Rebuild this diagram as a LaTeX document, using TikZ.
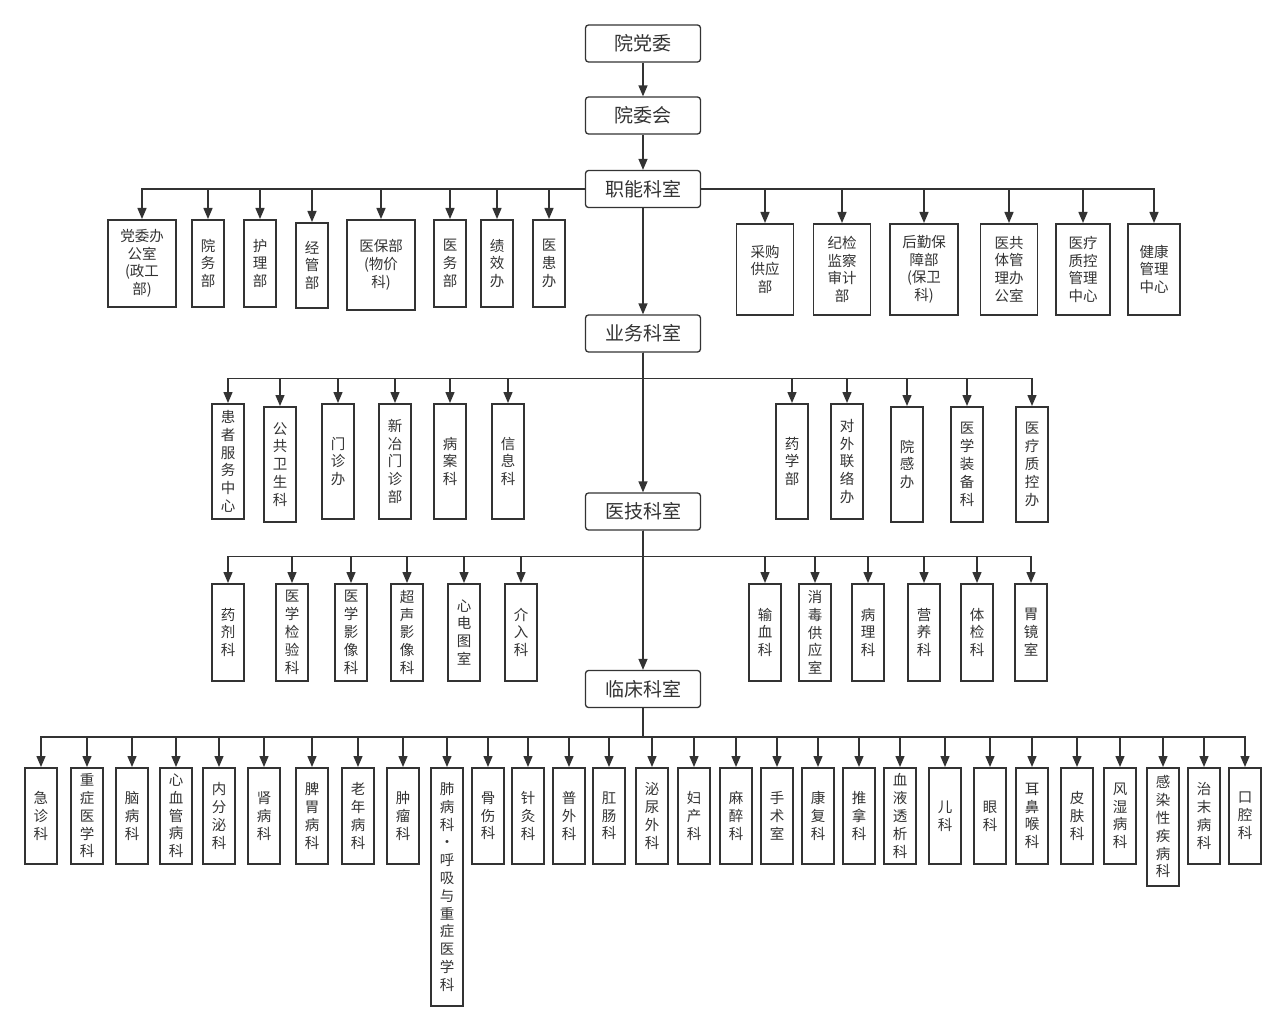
\documentclass[tikz,border=0pt]{standalone}
\usepackage{fontspec}
\setmainfont{Noto Sans CJK SC}
\usetikzlibrary{arrows.meta}
\definecolor{ink}{HTML}{333333}
\tikzset{
    lead/.style={draw=ink, text=ink, line width=1.3pt, rounded corners=3pt,
        minimum width=115pt, minimum height=37pt, inner sep=0pt,
        font=\fontsize{19}{22}\selectfont},
    unit/.style={draw=ink, text=ink, line width=1.8pt, anchor=north,
        align=center, inner sep=0pt, minimum width=32pt,
        font=\fontsize{14.5}{17.8}\selectfont},
    link/.style={draw=ink, line width=1.4pt, -{Triangle[width=9pt,length=11pt]}}
}

\begin{document}
\begin{tikzpicture}[x=1pt, y=-1pt]
    \useasboundingbox (0,0) rectangle (1286,1030);

    % main line
    \node[lead] (dangwei) at (643,43.5) {院党委};
    \node[lead] (yuanwei) at (643,115.5) {院委会};
    \node[lead] (zhineng) at (643,189) {职能科室};
    \node[lead] (yewu) at (643,333.5) {业务科室};
    \node[lead] (yiji) at (643,511.5) {医技科室};
    \node[lead] (linchuang) at (643,689) {临床科室};

    % 职能科室
    \node[unit, minimum width=68pt, minimum height=87pt] (zn1) at (142,219) {党委办\\公室\\(政工\\部)};
    \node[unit, minimum height=87pt] (zn2) at (208,219) {院\\务\\部};
    \node[unit, minimum height=87pt] (zn3) at (260,219) {护\\理\\部};
    \node[unit, minimum height=85pt] (zn4) at (312,222) {经\\管\\部};
    \node[unit, minimum width=68pt, minimum height=90pt] (zn5) at (381,219) {医保部\\(物价\\科)};
    \node[unit, minimum height=87pt] (zn6) at (450,219) {医\\务\\部};
    \node[unit, minimum height=87pt] (zn7) at (497,219) {绩\\效\\办};
    \node[unit, minimum height=87pt] (zn8) at (549,219) {医\\患\\办};
    \node[unit, minimum width=57pt, minimum height=91pt] (zn9) at (765,223) {采购\\供应\\部};
    \node[unit, minimum width=57pt, minimum height=91pt] (zn10) at (842,223) {纪检\\监察\\审计\\部};
    \node[unit, minimum width=68pt, minimum height=91pt] (zn11) at (924,223) {后勤保\\障部\\(保卫\\科)};
    \node[unit, minimum width=57pt, minimum height=91pt] (zn12) at (1009,223) {医共\\体管\\理办\\公室};
    \node[unit, minimum width=54pt, minimum height=91pt] (zn13) at (1083,223) {医疗\\质控\\管理\\中心};
    \node[unit, minimum width=52pt, minimum height=91pt] (zn14) at (1154,223) {健康\\管理\\中心};

    % 业务科室
    \node[unit, minimum height=115pt] (yw1) at (228,403) {患\\者\\服\\务\\中\\心};
    \node[unit, minimum height=115pt] (yw2) at (280,406) {公\\共\\卫\\生\\科};
    \node[unit, minimum height=115pt] (yw3) at (338,403) {门\\诊\\办};
    \node[unit, minimum height=115pt] (yw4) at (395,403) {新\\冶\\门\\诊\\部};
    \node[unit, minimum height=115pt] (yw5) at (450,403) {病\\案\\科};
    \node[unit, minimum height=115pt] (yw6) at (508,403) {信\\息\\科};
    \node[unit, minimum height=115pt] (yw7) at (792,403) {药\\学\\部};
    \node[unit, minimum height=115pt] (yw8) at (847,403) {对\\外\\联\\络\\办};
    \node[unit, minimum height=115pt] (yw9) at (907,406) {院\\感\\办};
    \node[unit, minimum height=115pt] (yw10) at (967,406) {医\\学\\装\\备\\科};
    \node[unit, minimum height=115pt] (yw11) at (1032,406) {医\\疗\\质\\控\\办};

    % 医技科室
    \node[unit, minimum height=97pt] (yj1) at (228,583) {药\\剂\\科};
    \node[unit, minimum height=97pt] (yj2) at (292,583) {医\\学\\检\\验\\科};
    \node[unit, minimum height=97pt] (yj3) at (351,583) {医\\学\\影\\像\\科};
    \node[unit, minimum height=97pt] (yj4) at (407,583) {超\\声\\影\\像\\科};
    \node[unit, minimum height=97pt] (yj5) at (464,583) {心\\电\\图\\室};
    \node[unit, minimum height=97pt] (yj6) at (521,583) {介\\入\\科};
    \node[unit, minimum height=97pt] (yj7) at (765,583) {输\\血\\科};
    \node[unit, minimum height=97pt] (yj8) at (815,583) {消\\毒\\供\\应\\室};
    \node[unit, minimum height=97pt] (yj9) at (868,583) {病\\理\\科};
    \node[unit, minimum height=97pt] (yj10) at (924,583) {营\\养\\科};
    \node[unit, minimum height=97pt] (yj11) at (977,583) {体\\检\\科};
    \node[unit, minimum height=97pt] (yj12) at (1031,583) {胃\\镜\\室};

    % 临床科室
    \node[unit, minimum height=96pt] (lc1) at (41,767) {急\\诊\\科};
    \node[unit, minimum height=96pt] (lc2) at (87,767) {重\\症\\医\\学\\科};
    \node[unit, minimum height=96pt] (lc3) at (132,767) {脑\\病\\科};
    \node[unit, minimum height=96pt] (lc4) at (176,767) {心\\血\\管\\病\\科};
    \node[unit, minimum height=96pt] (lc5) at (219,767) {内\\分\\泌\\科};
    \node[unit, minimum height=96pt] (lc6) at (264,767) {肾\\病\\科};
    \node[unit, minimum height=96pt] (lc7) at (312,767) {脾\\胃\\病\\科};
    \node[unit, minimum height=96pt] (lc8) at (358,767) {老\\年\\病\\科};
    \node[unit, minimum height=96pt] (lc9) at (403,767) {肿\\瘤\\科};
    \node[unit, minimum height=238pt] (lc10) at (447,767) {肺\\病\\科\\·\\呼\\吸\\与\\重\\症\\医\\学\\科};
    \node[unit, minimum height=96pt] (lc11) at (488,767) {骨\\伤\\科};
    \node[unit, minimum height=96pt] (lc12) at (528,767) {针\\灸\\科};
    \node[unit, minimum height=96pt] (lc13) at (569,767) {普\\外\\科};
    \node[unit, minimum height=96pt] (lc14) at (609,767) {肛\\肠\\科};
    \node[unit, minimum height=96pt] (lc15) at (652,767) {泌\\尿\\外\\科};
    \node[unit, minimum height=96pt] (lc16) at (694,767) {妇\\产\\科};
    \node[unit, minimum height=96pt] (lc17) at (736,767) {麻\\醉\\科};
    \node[unit, minimum height=96pt] (lc18) at (777,767) {手\\术\\室};
    \node[unit, minimum height=96pt] (lc19) at (818,767) {康\\复\\科};
    \node[unit, minimum height=96pt] (lc20) at (859,767) {推\\拿\\科};
    \node[unit, minimum height=96pt] (lc21) at (900,767) {血\\液\\透\\析\\科};
    \node[unit, minimum height=96pt] (lc22) at (945,767) {儿\\科};
    \node[unit, minimum height=96pt] (lc23) at (990,767) {眼\\科};
    \node[unit, minimum height=96pt] (lc24) at (1032,767) {耳\\鼻\\喉\\科};
    \node[unit, minimum height=96pt] (lc25) at (1077,767) {皮\\肤\\科};
    \node[unit, minimum height=96pt] (lc26) at (1120,767) {风\\湿\\病\\科};
    \node[unit, minimum height=118pt] (lc27) at (1163,767) {感\\染\\性\\疾\\病\\科};
    \node[unit, minimum height=96pt] (lc28) at (1204,767) {治\\末\\病\\科};
    \node[unit, minimum height=96pt] (lc29) at (1245,767) {口\\腔\\科};

    % connectors
    \draw[link] (dangwei) -- (yuanwei);
    \draw[link] (yuanwei) -- (zhineng);
    \draw[link] (zhineng) -- (yewu);
    \draw[link] (yewu) -- (yiji);
    \draw[link] (yiji) -- (linchuang);

    \draw[link] (zhineng.west) -| (zn1.north);
    \draw[link] (zhineng.west) -| (zn2.north);
    \draw[link] (zhineng.west) -| (zn3.north);
    \draw[link] (zhineng.west) -| (zn4.north);
    \draw[link] (zhineng.west) -| (zn5.north);
    \draw[link] (zhineng.west) -| (zn6.north);
    \draw[link] (zhineng.west) -| (zn7.north);
    \draw[link] (zhineng.west) -| (zn8.north);
    \draw[link] (zhineng.east) -| (zn9.north);
    \draw[link] (zhineng.east) -| (zn10.north);
    \draw[link] (zhineng.east) -| (zn11.north);
    \draw[link] (zhineng.east) -| (zn12.north);
    \draw[link] (zhineng.east) -| (zn13.north);
    \draw[link] (zhineng.east) -| (zn14.north);

    \draw[link] (yewu.south) -- ++(0,26) -| (yw1.north);
    \draw[link] (yewu.south) -- ++(0,26) -| (yw2.north);
    \draw[link] (yewu.south) -- ++(0,26) -| (yw3.north);
    \draw[link] (yewu.south) -- ++(0,26) -| (yw4.north);
    \draw[link] (yewu.south) -- ++(0,26) -| (yw5.north);
    \draw[link] (yewu.south) -- ++(0,26) -| (yw6.north);
    \draw[link] (yewu.south) -- ++(0,26) -| (yw7.north);
    \draw[link] (yewu.south) -- ++(0,26) -| (yw8.north);
    \draw[link] (yewu.south) -- ++(0,26) -| (yw9.north);
    \draw[link] (yewu.south) -- ++(0,26) -| (yw10.north);
    \draw[link] (yewu.south) -- ++(0,26) -| (yw11.north);

    \draw[link] (yiji.south) -- ++(0,26) -| (yj1.north);
    \draw[link] (yiji.south) -- ++(0,26) -| (yj2.north);
    \draw[link] (yiji.south) -- ++(0,26) -| (yj3.north);
    \draw[link] (yiji.south) -- ++(0,26) -| (yj4.north);
    \draw[link] (yiji.south) -- ++(0,26) -| (yj5.north);
    \draw[link] (yiji.south) -- ++(0,26) -| (yj6.north);
    \draw[link] (yiji.south) -- ++(0,26) -| (yj7.north);
    \draw[link] (yiji.south) -- ++(0,26) -| (yj8.north);
    \draw[link] (yiji.south) -- ++(0,26) -| (yj9.north);
    \draw[link] (yiji.south) -- ++(0,26) -| (yj10.north);
    \draw[link] (yiji.south) -- ++(0,26) -| (yj11.north);
    \draw[link] (yiji.south) -- ++(0,26) -| (yj12.north);

    \draw[link] (linchuang.south) -- ++(0,29) -| (lc1.north);
    \draw[link] (linchuang.south) -- ++(0,29) -| (lc2.north);
    \draw[link] (linchuang.south) -- ++(0,29) -| (lc3.north);
    \draw[link] (linchuang.south) -- ++(0,29) -| (lc4.north);
    \draw[link] (linchuang.south) -- ++(0,29) -| (lc5.north);
    \draw[link] (linchuang.south) -- ++(0,29) -| (lc6.north);
    \draw[link] (linchuang.south) -- ++(0,29) -| (lc7.north);
    \draw[link] (linchuang.south) -- ++(0,29) -| (lc8.north);
    \draw[link] (linchuang.south) -- ++(0,29) -| (lc9.north);
    \draw[link] (linchuang.south) -- ++(0,29) -| (lc10.north);
    \draw[link] (linchuang.south) -- ++(0,29) -| (lc11.north);
    \draw[link] (linchuang.south) -- ++(0,29) -| (lc12.north);
    \draw[link] (linchuang.south) -- ++(0,29) -| (lc13.north);
    \draw[link] (linchuang.south) -- ++(0,29) -| (lc14.north);
    \draw[link] (linchuang.south) -- ++(0,29) -| (lc15.north);
    \draw[link] (linchuang.south) -- ++(0,29) -| (lc16.north);
    \draw[link] (linchuang.south) -- ++(0,29) -| (lc17.north);
    \draw[link] (linchuang.south) -- ++(0,29) -| (lc18.north);
    \draw[link] (linchuang.south) -- ++(0,29) -| (lc19.north);
    \draw[link] (linchuang.south) -- ++(0,29) -| (lc20.north);
    \draw[link] (linchuang.south) -- ++(0,29) -| (lc21.north);
    \draw[link] (linchuang.south) -- ++(0,29) -| (lc22.north);
    \draw[link] (linchuang.south) -- ++(0,29) -| (lc23.north);
    \draw[link] (linchuang.south) -- ++(0,29) -| (lc24.north);
    \draw[link] (linchuang.south) -- ++(0,29) -| (lc25.north);
    \draw[link] (linchuang.south) -- ++(0,29) -| (lc26.north);
    \draw[link] (linchuang.south) -- ++(0,29) -| (lc27.north);
    \draw[link] (linchuang.south) -- ++(0,29) -| (lc28.north);
    \draw[link] (linchuang.south) -- ++(0,29) -| (lc29.north);
\end{tikzpicture}
\end{document}
